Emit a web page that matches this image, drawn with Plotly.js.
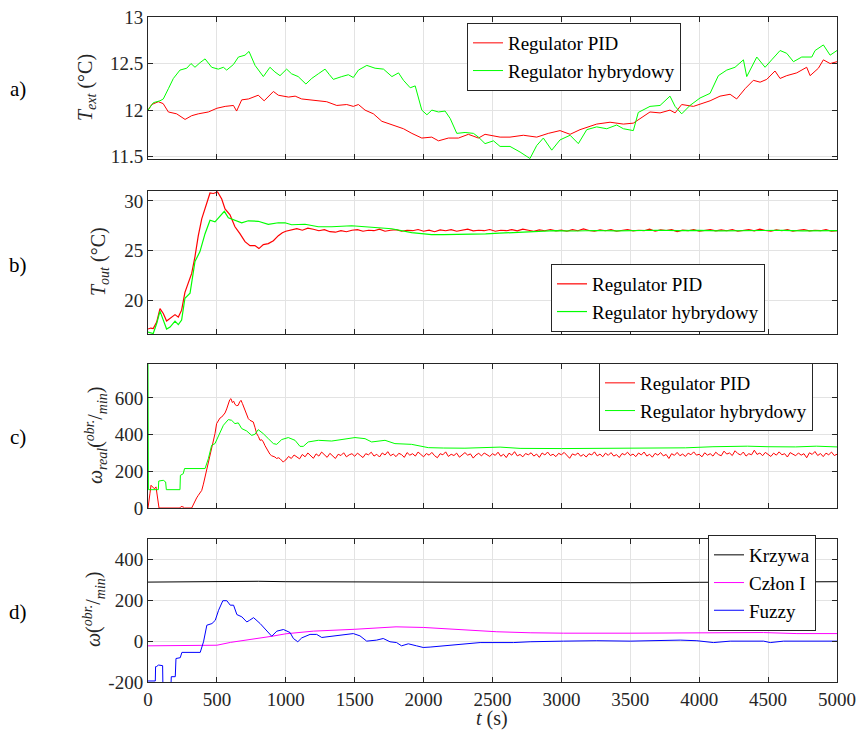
<!DOCTYPE html>
<html>
<head>
<meta charset="utf-8">
<script src="https://cdn.plot.ly/plotly-3.0.1.min.js"></script>
<style>html,body{margin:0;padding:0;background:#fff;}#chart{width:858px;height:738px;}</style>
</head>
<body>
<div id="chart"></div>
<script>
// ---------- Panel a: T_ext ----------
const tA_pid = [0,27,75,110,148,208,269,317,365,438,500,560,620,643,680,730,800,843,910,946,1020,1068,1115,1188,1236,1297,1370,1442,1490,1527,1575,1636,1697,1770,1854,1915,1987,2059,2108,2180,2253,2325,2398,2446,2507,2555,2627,2724,2821,2905,2990,3063,3135,3256,3353,3450,3522,3595,3643,3716,3788,3825,3873,3958,4030,4079,4151,4224,4272,4333,4393,4442,4490,4550,4587,4635,4708,4780,4805,4865,4901,4950,5000];
const A_pid = [12.0,12.06,12.09,12.07,11.98,11.96,11.9,11.94,11.96,11.98,12.02,12.04,12.05,11.99,12.11,12.12,12.16,12.1,12.2,12.16,12.14,12.15,12.12,12.11,12.1,12.09,12.05,12.06,12.04,12.06,12.0,11.96,11.88,11.84,11.8,11.75,11.70,11.71,11.67,11.70,11.70,11.74,11.70,11.74,11.72,11.71,11.71,11.73,11.71,11.75,11.78,11.74,11.79,11.85,11.87,11.85,11.86,11.93,11.98,11.97,12.0,11.97,12.06,12.04,12.08,12.10,12.15,12.17,12.12,12.23,12.32,12.30,12.33,12.42,12.34,12.37,12.40,12.46,12.37,12.45,12.54,12.50,12.52];
const tA_hyb = [0,39,87,111,148,184,232,281,312,341,378,414,462,510,547,571,620,656,704,733,777,837,885,921,958,1006,1042,1090,1146,1188,1236,1285,1317,1345,1406,1454,1490,1527,1588,1648,1709,1770,1818,1854,1903,1939,1987,2024,2060,2108,2156,2193,2241,2301,2362,2398,2446,2507,2555,2627,2700,2772,2821,2869,2930,2990,3063,3123,3184,3256,3329,3401,3450,3522,3558,3643,3716,3788,3825,3873,3933,4006,4079,4139,4200,4260,4321,4345,4418,4478,4526,4587,4635,4684,4744,4817,4841,4901,4950,5000];
const A_hyb = [12.0,12.08,12.10,12.12,12.23,12.34,12.43,12.45,12.50,12.46,12.51,12.55,12.46,12.44,12.46,12.43,12.49,12.57,12.59,12.63,12.48,12.36,12.46,12.41,12.37,12.44,12.39,12.36,12.28,12.34,12.39,12.44,12.38,12.33,12.36,12.38,12.35,12.43,12.48,12.45,12.44,12.36,12.40,12.32,12.24,12.26,12.0,11.95,12.0,11.98,11.99,11.91,11.75,11.76,11.75,11.71,11.64,11.67,11.61,11.61,11.55,11.48,11.62,11.70,11.57,11.68,11.73,11.64,11.79,11.82,11.80,11.84,11.80,11.78,11.975,12.04,12.05,12.15,12.04,11.96,12.05,12.13,12.18,12.37,12.43,12.46,12.54,12.36,12.57,12.46,12.54,12.64,12.61,12.52,12.57,12.57,12.64,12.70,12.59,12.64];

// ---------- Panel b: T_out ----------
const tB_pidEarly = [0,20,38,63,87,111,135,172,196,220,244,268,293,317,341,365,390,426,450,474,505,535,559,595,631,667,704,740,776,805,837,873,910,946,975];
const B_pidEarly = [17.1,17.2,17.15,17.8,19.16,18.66,17.9,18.3,18.55,18.3,19.0,20.8,21.7,22.7,24.4,26.5,28.2,29.8,30.8,30.75,30.9,30.2,29.2,28.6,27.4,26.7,25.9,25.5,25.5,25.2,25.6,25.7,26.0,26.5,26.8];
// from t = 1000 s every 40 s
const B_pidLate = [26.95,27.1,27.2,27.05,27.25,27.15,27.0,27.1,26.9,26.85,
27.0,26.9,27.05,27.1,26.95,27.05,27.0,27.15,26.95,27.05,
27.1,26.95,27.05,27.0,27.12,26.95,27.05,26.9,27.08,27.0,
27.1,26.95,27.05,27.15,26.98,27.05,27.0,27.12,26.95,27.05,
27.0,27.1,26.98,27.15,27.05,26.95,27.08,27.0,27.12,26.98,
27.05,26.95,27.1,27.0,27.18,27.02,26.95,27.08,27.0,27.1,
26.95,27.05,27.12,26.98,27.05,27.0,27.15,26.95,27.08,27.02,
27.1,26.92,27.05,27.0,27.12,26.95,27.05,27.1,26.98,27.08,
27.0,27.12,26.95,27.05,27.1,26.98,27.15,27.02,26.95,27.08,
27.0,27.1,26.95,27.05,27.12,26.98,27.05,27.0,27.1,26.95,27.0];
const tB_hyb = [0,38,63,87,111,135,160,196,220,244,268,305,341,377,414,450,486,522,554,583,631,680,728,800,873,946,994,1042,1140,1236,1333,1478,1623,1768,1913,2058,2143,2250,2350,2450,2550,2650,2750,2850,2950,3100,3250,3400,3550,3700,3850,4000,4150,4300,4450,4600,4750,4900,5000];
const B_hyb = [16.8,16.65,17.65,18.9,18.0,17.1,17.3,17.9,17.55,18.0,20.2,20.7,23.9,24.9,26.7,28.05,27.9,28.4,28.95,28.3,28.05,27.8,28.0,27.95,27.65,27.8,27.8,27.6,27.65,27.4,27.4,27.5,27.35,27.2,26.8,26.6,26.6,26.62,26.6,26.68,26.75,26.82,26.9,26.95,27.0,26.97,27.02,26.98,27.03,27.05,27.0,27.03,26.98,27.02,27.0,27.04,26.98,27.02,27.0];

// ---------- Panel c: omega_real ----------
const tC_pidEarly = [0,8,14,22,31,46,58,66,75,80,230,240,255,265,317,341,353,365,378,390,402,414,426,438,450,462,474,486,498,510,522,535,547,559,571,583,593,602,612,622,631,643,655,665,675,685,694,704,716,728,740,752,764,776,789,801,813,825,837,849,861,873,885,897,909,921,933,946,958,970,982,994];
const C_pidEarly = [0,60,78,124,118,105,115,60,5,0,0,8,6,0,0,42,55,69,80,96,130,169,200,242,290,333,370,405,460,478,490,496,505,518,540,569,590,596,575,582,565,558,560,578,587,570,550,533,505,487,478,475,469,440,405,390,369,372,360,340,324,305,293,285,282,278,270,274,269,262,250,260];
// from t = 1000 s every 20 s
const C_pidLate = [262,281,270,289,276,268,292,279,300,284,271,295,283,305,288,276,298,281,270,293,286,301,279,290,296,
282,299,287,275,296,290,304,283,293,278,300,289,307,285,294,280,298,291,276,302,288,296,283,305,292,
279,297,288,303,285,274,296,290,306,281,293,286,299,277,291,302,288,295,272,289,298,284,300,290,281,
296,287,304,282,293,275,299,288,307,284,292,279,297,290,301,283,294,276,300,289,305,286,293,280,298,
290,303,285,271,295,288,300,282,292,278,296,289,306,284,294,279,299,287,302,283,291,275,297,290,304,
286,294,280,300,289,305,283,293,277,298,288,302,284,292,270,296,287,303,285,294,281,299,290,306,288,
293,279,301,288,296,283,304,291,285,310,294,300,286,312,297,289,305,283,296,290,315,292,300,285,303,
294,281,299,288,306,290,296,278,302,291,285,300,288,296,274,301,292,308,286,297,280,299,290,305,286,293];
const tC_hyb = [0,3,75,78,111,128,133,232,235,256,265,414,438,462,486,510,547,583,607,631,655,680,716,752,776,800,837,873,910,934,970,1018,1067,1103,1127,1163,1236,1333,1430,1502,1575,1623,1720,1792,1913,2034,2143,2300,2555,2700,3000,3300,3600,3900,4100,4350,4500,4700,4850,5000];
const C_hyb = [790,100,100,147,151,142,100,100,178,187,215,215,269,342,351,387,451,482,478,460,464,433,420,396,402,427,405,378,351,347,373,384,369,336,336,360,369,365,378,384,378,360,369,351,347,329,327,326,332,325,324,324,326,328,334,337,334,333,337,333];

// ---------- Panel d: omega components ----------
const tD_krz = [0,200,400,600,800,1000,1500,2000,2500,3000,3500,4000,4500,5000];
const D_krz = [289,290,292,293,293,291,290,289,286,286,286,288,290,291];
const tD_czl = [0,450,500,600,750,900,1000,1200,1500,1800,2000,2289,2531,2773,3015,3499,3983,4467,4709,5000];
const D_czl = [-23,-23,-20,-6,8,24,36,49,58,70,67,54,46,41,39,39,42,42,37,37];
const tD_fuz = [0,53,55,60,77,106,108,167,169,198,203,234,246,379,403,427,464,488,512,543,572,597,621,645,681,717,737,766,814,862,898,935,983,1031,1055,1087,1116,1176,1224,1261,1345,1490,1538,1587,1659,1707,1756,1804,1840,1889,1949,1997,2047,2192,2410,2652,2773,3015,3257,3499,3741,3862,3983,4104,4225,4467,4516,4612,5000];
const D_fuz = [-195,-195,-125,-125,-117,-120,-210,-210,-174,-174,-85,-81,-55,-55,-3,78,86,102,151,198,198,176,176,130,119,94,102,115,86,50,24,49,57,42,13,-3,16,33,33,18,26,37,26,0,5,13,-3,-7,-23,-13,-23,-31,-29,-20,-7,-7,-3,0,2,0,2,5,2,-7,0,0,-7,0,0];

const legPid = 'Regulator PID', legHyb = 'Regulator hybrydowy';
const namesD = ['Krzywa', 'Człon I', 'Fuzzy'];

// time axes for the dense segments
function steps(start, step, n){ const a=[]; for(let i=0;i<n;i++) a.push(start+i*step); return a; }
const tB_pid = tB_pidEarly.concat(steps(1000,40,B_pidLate.length-1)).concat([5000]);
const B_pid = B_pidEarly.concat(B_pidLate);
const tC_pid = tC_pidEarly.concat(steps(1000,20,C_pidLate.length-1)).concat([5000]);
const C_pid = C_pidEarly.concat(C_pidLate);

const W = 858, H = 738;
const FONT = 'Liberation Serif';
const AX = '#262626';
const RED = '#ff0000', GREEN = '#00ff00';

function px(x){ return x / W; }
function py(y){ return 1 - y / H; }

const traces = [
  {x:tA_pid, y:A_pid, name:legPid, xaxis:'x', yaxis:'y', line:{color:RED,width:1}, legend:'legend'},
  {x:tA_hyb, y:A_hyb, name:legHyb, xaxis:'x', yaxis:'y', line:{color:GREEN,width:1}, legend:'legend'},
  {x:tB_pid, y:B_pid, name:legPid, xaxis:'x2', yaxis:'y2', line:{color:RED,width:1.2}, legend:'legend2'},
  {x:tB_hyb, y:B_hyb, name:legHyb, xaxis:'x2', yaxis:'y2', line:{color:GREEN,width:1.2}, legend:'legend2'},
  {x:tC_pid, y:C_pid, name:legPid, xaxis:'x3', yaxis:'y3', line:{color:RED,width:1}, legend:'legend3'},
  {x:tC_hyb, y:C_hyb, name:legHyb, xaxis:'x3', yaxis:'y3', line:{color:GREEN,width:1}, legend:'legend3'},
  {x:tD_krz, y:D_krz, name:namesD[0], xaxis:'x4', yaxis:'y4', line:{color:'#000000',width:1}, legend:'legend4'},
  {x:tD_czl, y:D_czl, name:namesD[1], xaxis:'x4', yaxis:'y4', line:{color:'#ff00ff',width:1}, legend:'legend4'},
  {x:tD_fuz, y:D_fuz, name:namesD[2], xaxis:'x4', yaxis:'y4', line:{color:'#0000ff',width:1}, legend:'legend4'}
].map(t => Object.assign({type:'scatter', mode:'lines', showlegend:true}, t));

const xdom = [px(148), px(837)];
const doms = [[py(159), py(17)], [py(334), py(191)], [py(508), py(364)], [py(682), py(539)]];

function xAxis(i, labels){
  return {
    domain: xdom, range:[0,5000], anchor: i===0?'y':'y'+(i+1),
    tickmode:'array', tickvals:[0,500,1000,1500,2000,2500,3000,3500,4000,4500,5000],
    showticklabels: labels, ticks:'inside', ticklen:5, tickcolor:AX,
    showline:true, linecolor:AX, linewidth:1, mirror:'ticks',
    showgrid:true, gridcolor:'#e3e3e3', gridwidth:1, zeroline:false,
    tickfont:{family:FONT, size:19, color:AX}
  };
}
function yAxis(i, range, vals, texts){
  return {
    domain: doms[i], range: range, anchor: i===0?'x':'x'+(i+1),
    tickmode:'array', tickvals: vals, ticktext: texts,
    ticks:'inside', ticklen:5, tickcolor:AX,
    showline:true, linecolor:AX, linewidth:1, mirror:'ticks',
    showgrid:true, gridcolor:'#e3e3e3', gridwidth:1, zeroline:false,
    tickfont:{family:FONT, size:19, color:AX}
  };
}
function leg(x, yc){
  return {x:px(x), y:py(yc), xanchor:'left', yanchor:'middle', bgcolor:'#ffffff',
    bordercolor:AX, borderwidth:1, font:{family:FONT, size:19, color:'#000'},
    tracegroupgap:0, itemwidth:30};
}

const ann = (text, x, y, opts) => Object.assign({text, x:px(x), y:py(y), xref:'paper', yref:'paper',
  xanchor:'center', yanchor:'middle', showarrow:false,
  font:{family:FONT, size:20, color:AX}}, opts||{});

const layout = {
  width:W, height:H, margin:{l:0,r:0,t:0,b:0}, paper_bgcolor:'#fff', plot_bgcolor:'#fff',
  font:{family:FONT},
  showlegend:true,
  xaxis:xAxis(0,false), xaxis2:xAxis(1,false), xaxis3:xAxis(2,false), xaxis4:xAxis(3,true),
  yaxis:yAxis(0,[11.475,13],[11.5,12,12.5,13],['11.5','12','12.5','13']),
  yaxis2:yAxis(1,[16.6,31],[20,25,30],['20','25','30']),
  yaxis3:yAxis(2,[0,785],[0,200,400,600],['0','200','400','600']),
  yaxis4:yAxis(3,[-200,500],[-200,0,200,400],['-200','0','200','400']),
  legend:leg(467,57), legend2:leg(551,298), legend3:leg(599,397), legend4:leg(708,583),
  annotations:[
    ann('a)', 18, 89, {font:{family:FONT, size:21, color:'#000'}}),
    ann('b)', 18, 265, {font:{family:FONT, size:21, color:'#000'}}),
    ann('c)', 18, 437, {font:{family:FONT, size:21, color:'#000'}}),
    ann('d)', 18, 612, {font:{family:FONT, size:21, color:'#000'}}),
    ann('<i>T</i><sub><i>ext</i></sub> (°C)', 87, 88, {textangle:-90}),
    ann('<i>T</i><sub><i>out</i></sub> (°C)', 99, 262, {textangle:-90}),
    ann('<i>ω</i><sub><i>real</i></sub>(<sup><i>obr.</i></sup>/<sub><i>min</i></sub>)', 96, 436, {textangle:-90}),
    ann('<i>ω</i>(<sup><i>obr.</i></sup>/<sub><i>min</i></sub>)', 94, 610, {textangle:-90}),
    ann('<i>t</i> (s)', 492, 718)
  ]
};

Plotly.newPlot('chart', traces, layout, {displayModeBar:false, staticPlot:true});
</script>
</body>
</html>
